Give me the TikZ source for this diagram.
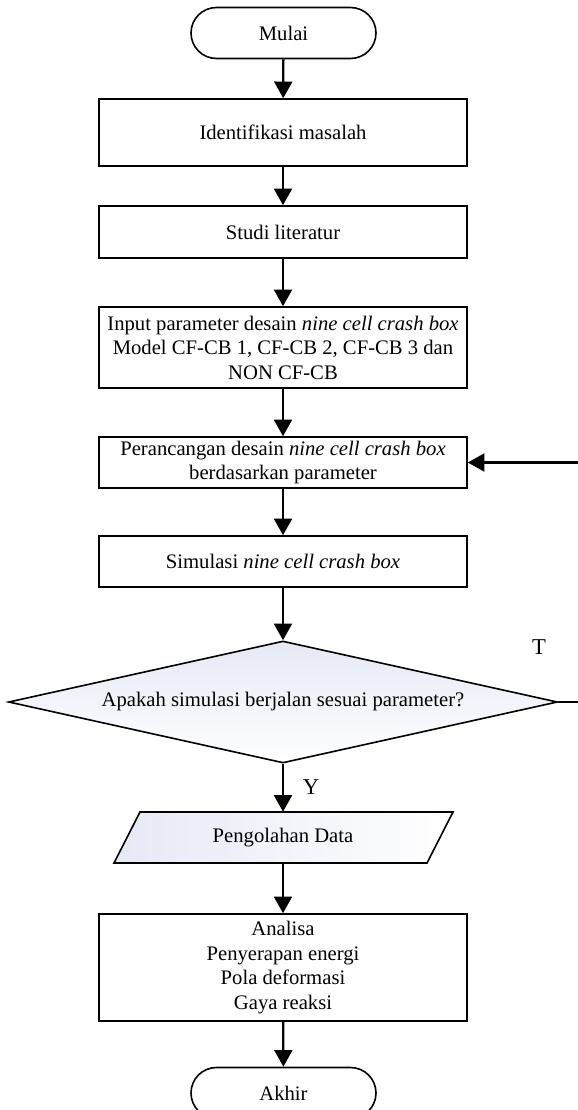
\documentclass[tikz,border=0pt]{standalone}
\usepackage{fontspec}
\setmainfont{Liberation Serif}
\usetikzlibrary{arrows.meta,shapes.geometric,shapes.misc}
\begin{document}
\begin{tikzpicture}[x=0.75pt,y=-0.75pt,
  every node/.style={font=\fontsize{15.5}{18.4}\selectfont, inner sep=0pt, align=center},
  procbox/.style={draw, line width=1.2pt, minimum width=368*0.75pt},
  term/.style={draw, line width=1.2pt, rounded rectangle, minimum width=185*0.75pt, minimum height=51*0.75pt},
  flow/.style={line width=1.7pt, -{Triangle[width=13.5pt,length=12.5pt]}},
  lbl/.style={font=\fontsize{17}{20}\selectfont}]
\useasboundingbox (0,0) rectangle (578,1110);
\definecolor{shadeblue}{RGB}{230,233,246}
\node[term] (mulai) at (283.5,33) {Mulai};
\node[procbox, minimum height=67*0.75pt] (ident) at (283,132.5) {Identifikasi masalah};
\node[procbox, minimum height=52*0.75pt] (studi) at (283,232) {Studi literatur};
\node[procbox, minimum height=81*0.75pt] (input) at (283,347.5) {Input parameter desain \textit{nine cell crash box}\\Model CF-CB 1, CF-CB 2, CF-CB 3 dan\\NON CF-CB};
\node[procbox, minimum height=51*0.75pt] (peran) at (283,462.5) {Perancangan desain \textit{nine cell crash box}\\berdasarkan parameter};
\node[procbox, minimum height=51*0.75pt] (simul) at (283,561.5) {Simulasi \textit{nine cell crash box}};
\node[diamond, draw, line width=1.2pt, aspect=4.5, minimum width=549*0.75pt, minimum height=122*0.75pt,
  left color=shadeblue, right color=white, shading angle=0] (dec) at (283,702) {};
\node (dectext) at (283,702) {Apakah simulasi berjalan sesuai parameter?};
\path[draw, line width=1.2pt, left color=shadeblue, right color=white] (140,812) -- (453,812) -- (427,863) -- (114,863) -- cycle;
\node[minimum height=51*0.75pt, minimum width=300*0.75pt] (par) at (283,837.5) {Pengolahan Data};
\node[procbox, minimum height=107*0.75pt] (anal) at (283,967.5) {Analisa\\Penyerapan energi\\Pola deformasi\\Gaya reaksi};
\node[term] (akhir) at (283.5,1093) {Akhir};
\node[lbl] (ylab) at (311,787) {Y};
\node[lbl] (tlab) at (539,647) {T};
\coordinate (c1) at (590,702);
\coordinate (c2) at (590,462.5);
\draw[flow] (mulai) -- (ident);
\draw[flow] (ident) -- (studi);
\draw[flow] (studi) -- (input);
\draw[flow] (input) -- (peran);
\draw[flow] (peran) -- (simul);
\draw[flow] (simul) -- (dec.north);
\draw[flow] (dec.south) -- (par.north);
\draw[flow] (par) -- (anal);
\draw[flow] (anal) -- (akhir);
\draw[flow] (dec.east) -- (c1) -- (c2) -- (peran.east);
\end{tikzpicture}
\end{document}
